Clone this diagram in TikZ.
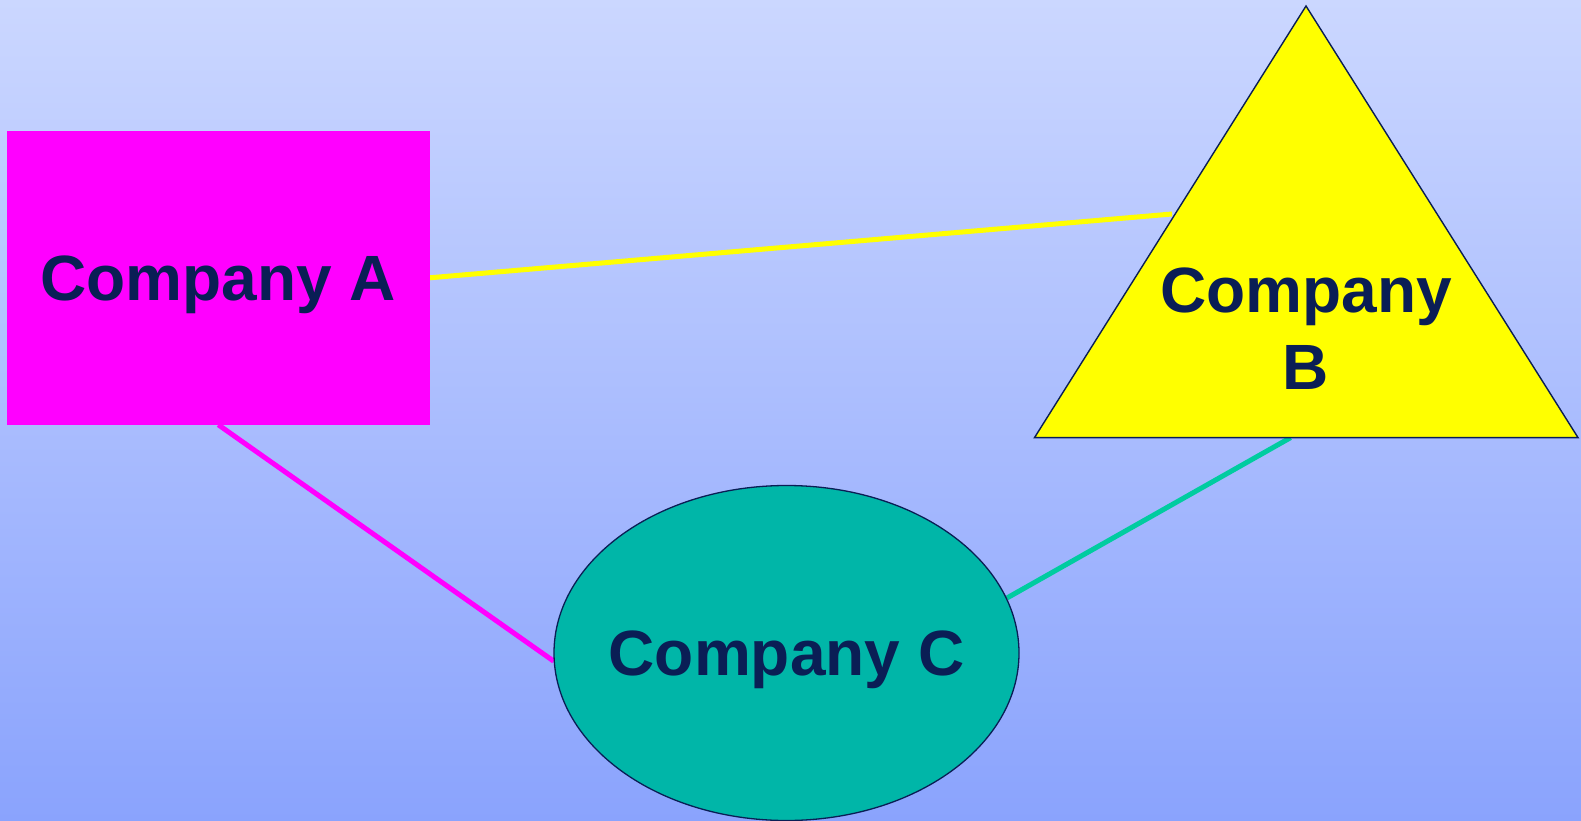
\documentclass[tikz,border=0pt]{standalone}
\usepackage{fontspec}
\setmainfont{Liberation Sans}
\usetikzlibrary{shapes.geometric,backgrounds}
\definecolor{skytop}{RGB}{203,215,255}
\definecolor{skybottom}{RGB}{138,163,253}
\definecolor{inkblue}{RGB}{10,30,85}
\definecolor{boxmagenta}{RGB}{255,0,255}
\definecolor{triyellow}{RGB}{255,255,0}
\definecolor{ovalteal}{RGB}{0,182,168}
\definecolor{linkteal}{RGB}{0,204,160}
\tikzset{
  label text/.style={text=inkblue, font=\fontsize{64}{76.8}\bfseries\selectfont},
  link/.style={line width=5pt},
}
\begin{document}
\begin{tikzpicture}[x=1pt,y=-1pt]
\useasboundingbox (0,0) rectangle (1581,821);

% Company A: magenta box
\node[label text, rectangle, fill=boxmagenta, inner sep=0pt,
      minimum width=422.5pt, minimum height=293.5pt, text depth=0pt]
  (A) at (218.3,277.8) {Company A};

% Company C: teal ellipse, its caption set as a centred label
\node[ellipse, draw=inkblue, line width=1.3pt, fill=ovalteal, inner sep=0pt,
      minimum width=465pt, minimum height=335pt,
      label={[label text, inner sep=0pt, text depth=0pt]center:Company C}]
  (C) at (786.5,653) {};

% Company B: yellow triangle with its connection points
\draw[draw=inkblue, line width=1.4pt, fill=triyellow, line join=miter]
  (1306,6) coordinate (Btop) -- (1578,437.6) coordinate (Bright)
  -- (1034.5,437.6) coordinate (Bleft) -- cycle;
\coordinate (Bside) at (1172,214);
\coordinate (Bbase) at (1290.6,437.6);
\node[label text, align=center, inner sep=0pt] (B) at (1306,329) {Company\\B};

\begin{scope}[on background layer]
  \shade[top color=skytop, bottom color=skybottom] (0,0) rectangle (1581,821);
  \draw[link, triyellow] (A.east) -- (Bside);
  \draw[link, boxmagenta] (A.south) -- (C.182);
  \draw[link, linkteal] (C.14.6) -- (Bbase);
\end{scope}
\end{tikzpicture}
\end{document}
